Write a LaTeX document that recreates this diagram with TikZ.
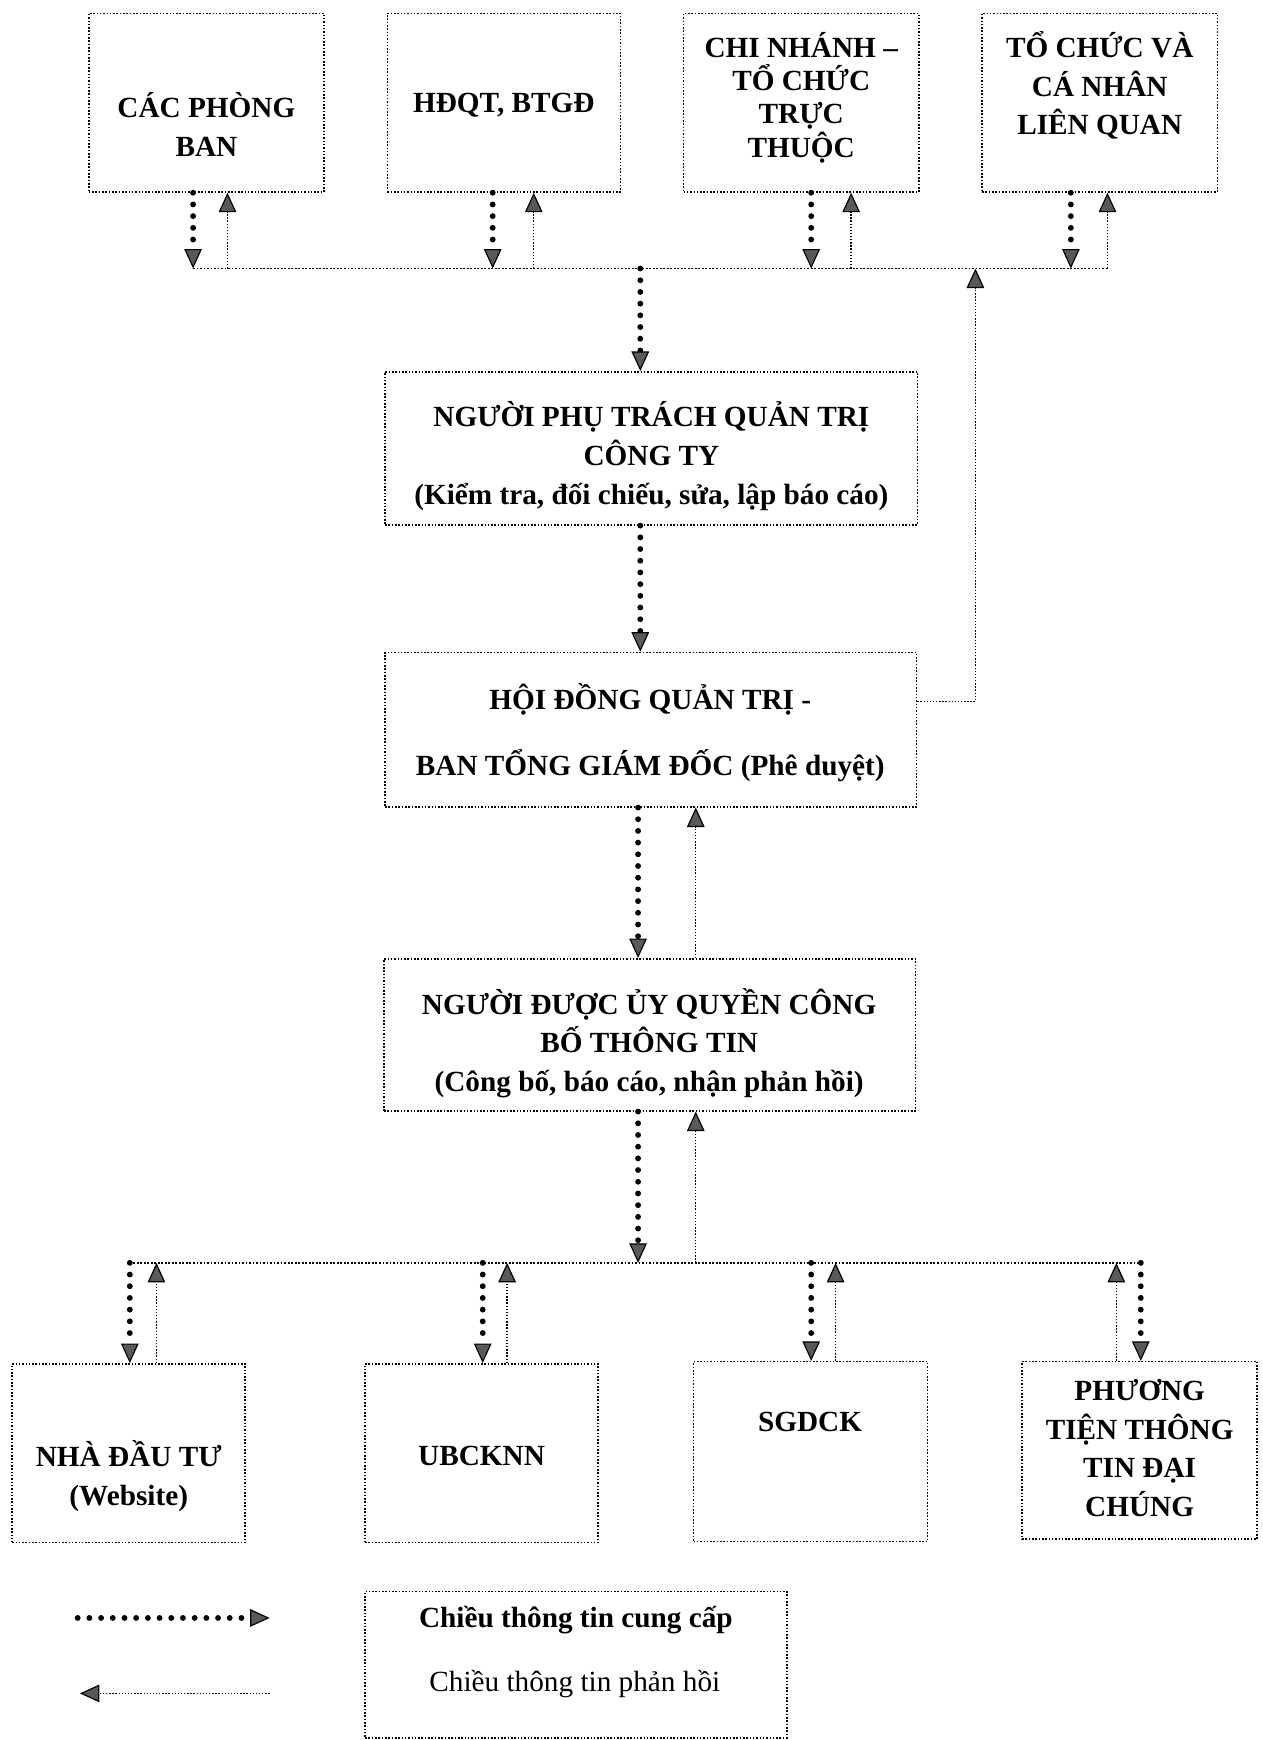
\documentclass[tikz,border=0pt]{standalone}
\usepackage{fontspec}
\setmainfont{Liberation Serif}
\usetikzlibrary{arrows.meta}
\begin{document}
\begin{tikzpicture}[x=0.02cm,y=-0.02cm,
  box/.style={draw, line width=0.8pt, dash pattern=on 0.8pt off 0.9pt, inner sep=0pt},
  lbl/.style={font=\fontsize{15}{19.8}\selectfont\bfseries, align=center, inner sep=0pt},
  tip/.style={-{Triangle[length=10pt,width=9pt,line width=0.6pt,fill=black!65]}},
  prov/.style={line width=3pt, line cap=round, dash pattern=on 0pt off 6pt, tip},
  fb/.style={line width=0.7pt, dash pattern=on 0.7pt off 0.9pt, tip},
  bus/.style={line width=0.9pt, dash pattern=on 0.9pt off 0.9pt}]
\useasboundingbox (0,0) rectangle (1138,1568);

% top boxes
\node[box, minimum width=4.24cm, minimum height=3.22cm] (b1) at (186,92.5) {};
\node[box, minimum width=4.20cm, minimum height=3.22cm] (b2) at (454,92.5) {};
\node[box, minimum width=4.24cm, minimum height=3.22cm] (b3) at (722,92.5) {};
\node[box, minimum width=4.24cm, minimum height=3.22cm] (b4) at (991,92.5) {};
\node[lbl] (t1) at (186,112) {CÁC PHÒNG\\BAN};
\node[lbl] (t2) at (454,95) {HĐQT, BTGĐ};
\node[lbl, font=\fontsize{15}{17}\selectfont\bfseries] (t3) at (722,88) {CHI NHÁNH –\\TỔ CHỨC\\TRỰC\\THUỘC};
\node[lbl] (t4) at (991,77) {TỔ CHỨC VÀ\\CÁ NHÂN\\LIÊN QUAN};

% middle boxes
\node[box, minimum width=9.6cm, minimum height=2.76cm] (m1) at (587,404) {};
\node[box, minimum width=9.58cm, minimum height=2.78cm] (m2) at (586.5,657.5) {};
\node[box, minimum width=9.58cm, minimum height=2.74cm] (m3) at (585.5,932.5) {};
\node[lbl] (tm1) at (587,411) {NGƯỜI PHỤ TRÁCH QUẢN TRỊ\\CÔNG TY\\(Kiểm tra, đối chiếu, sửa, lập báo cáo)};
\node[lbl] (tm2) at (586,660) {HỘI ĐỒNG QUẢN TRỊ -\\[14pt]BAN TỔNG GIÁM ĐỐC (Phê duyệt)};
\node[lbl] (tm3) at (585,940) {NGƯỜI ĐƯỢC ỦY QUYỀN CÔNG\\BỐ THÔNG TIN\\(Công bố, báo cáo, nhận phản hồi)};

% bottom boxes
\node[box, minimum width=4.20cm, minimum height=3.22cm] (n1) at (116,1309.5) {};
\node[box, minimum width=4.20cm, minimum height=3.22cm] (n2) at (434,1309.5) {};
\node[box, minimum width=4.22cm, minimum height=3.24cm] (n3) at (730.5,1308) {};
\node[box, minimum width=4.24cm, minimum height=3.20cm] (n4) at (1027,1307) {};
\node[lbl] (tn1) at (116,1330) {NHÀ ĐẦU TƯ\\(Website)};
\node[lbl] (tn2) at (434,1312) {UBCKNN};
\node[lbl] (tn3) at (730,1281) {SGDCK};
\node[lbl] (tn4) at (1027,1305) {PHƯƠNG\\TIỆN THÔNG\\TIN ĐẠI\\CHÚNG};

% legend
\node[box, minimum width=7.6cm, minimum height=2.64cm] (lg) at (519,1500) {};
\node[lbl] (tl1) at (519,1460) {Chiều thông tin cung cấp};
\node[lbl, font=\fontsize{15}{19.8}\selectfont] (tl2) at (518,1518) {Chiều thông tin phản hồi};

% top bus
\coordinate (d1) at (174,242); \coordinate (u1) at (205,242);
\coordinate (d2) at (444,242); \coordinate (u2) at (481,242);
\coordinate (d3) at (731,242); \coordinate (u3) at (767,242);
\coordinate (d4) at (965,242); \coordinate (u4) at (998,242);
\coordinate (c0) at (577,242); \coordinate (fbT) at (879,242);
\coordinate (fbM) at (879,632);
\draw[bus] (d1) -- (u4);
\foreach \i in {1,2,3,4}{
  \draw[prov] (d\i |- b\i.south) -- (d\i);
  \draw[fb] (u\i) -- (u\i |- b\i.south);
}
\draw[prov] (c0) -- (c0 |- m1.north);
\draw[prov] (c0 |- m1.south) -- (c0 |- m2.north);
\draw[fb] (m2.east |- fbM) -- (fbM) -- (fbT);

% lower chain
\coordinate (cd) at (575,1138); \coordinate (cu) at (627,1138);
\draw[prov] (cd |- m2.south) -- (cd |- m3.north);
\draw[fb] (cu |- m3.north) -- (cu |- m2.south);
\draw[prov] (cd |- m3.south) -- (cd);
\draw[fb] (cu) -- (cu |- m3.south);

% bottom bus
\coordinate (e1) at (117,1138); \coordinate (f1) at (141,1138);
\coordinate (e2) at (435,1138); \coordinate (f2) at (457,1138);
\coordinate (e3) at (731,1138); \coordinate (f3) at (753,1138);
\coordinate (e4) at (1028,1138); \coordinate (f4) at (1006,1138);
\draw[bus] (e1) -- (e4);
\foreach \i in {1,2,3,4}{
  \draw[prov] (e\i) -- (e\i |- n\i.north);
  \draw[fb] (f\i |- n\i.north) -- (f\i);
}

% legend arrows
\coordinate (la1) at (70,1458); \coordinate (la2) at (243,1458);
\coordinate (lb1) at (243,1526); \coordinate (lb2) at (72,1526);
\draw[prov] (la1) -- (la2);
\draw[fb] (lb1) -- (lb2);
\end{tikzpicture}
\end{document}
